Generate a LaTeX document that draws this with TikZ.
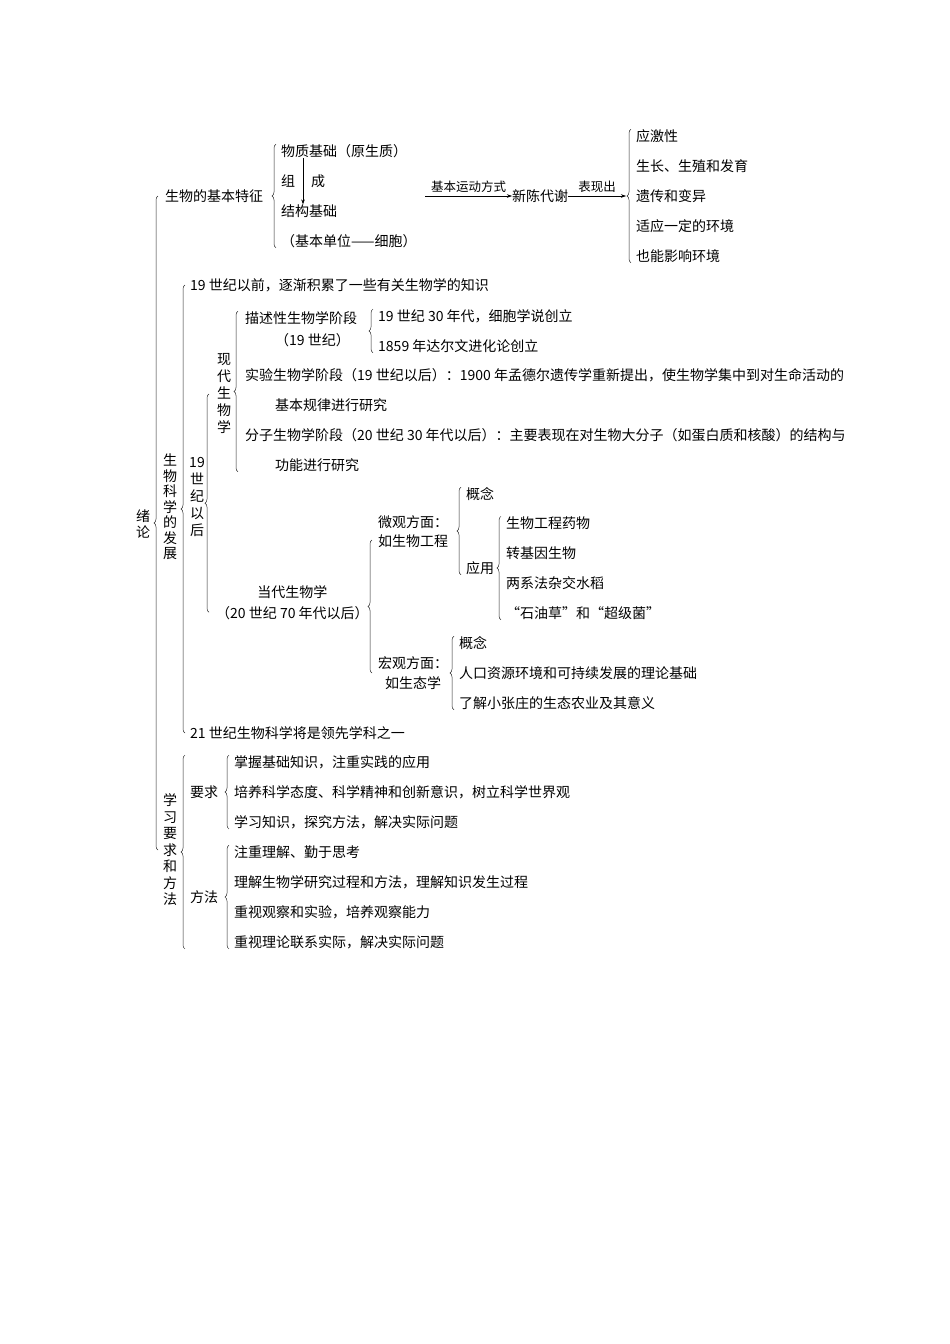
\documentclass[tikz,border=0pt]{standalone}
\usepackage{fontspec}
\setmainfont{Noto Sans CJK SC}
\usepackage{tikz}
\usetikzlibrary{arrows.meta,decorations.pathreplacing}

\begin{document}
\begin{tikzpicture}[
  x=1pt, y={(0pt,-1pt)},
  txt/.style={anchor=west, inner sep=0pt, font=\fontsize{14}{17}\selectfont},
  vt/.style={align=center, inner sep=0pt, font=\fontsize{14}{16.5}\selectfont},
  lbl/.style={inner sep=0pt, font=\fontsize{12.5}{14}\selectfont},
  brc/.style={decorate, decoration={brace, amplitude=4pt}, draw=black!85, line width=0.5pt},
  arr/.style={-{Stealth[length=5pt,width=3.5pt]}, line width=0.5pt}
]
  \useasboundingbox (0,0) rectangle (950,1344);

  % root
  \node[vt] (xl) at (143,524) {绪\\论};

  % 1st part
  \node[txt] (bt) at (165,196) {生物的基本特征};
  \node[txt] (m1) at (281,151) {物质基础（原生质）};
  \node[txt] (zu) at (281,181) {组};
  \node[txt] (cg) at (311,181) {成};
  \node[txt] (m2) at (281,211) {结构基础};
  \node[txt] (m3) at (281,241) {（基本单位——细胞）};
  \coordinate (a0) at (425,196);
  \node[txt] (xc) at (512,196) {新陈代谢};
  \node[txt] (f1) at (636,136) {应激性};
  \node[txt] (f2) at (636,166) {生长、生殖和发育};
  \node[txt] (f3) at (636,196) {遗传和变异};
  \node[txt] (f4) at (636,226) {适应一定的环境};
  \node[txt] (f5) at (636,256) {也能影响环境};

  \draw[brc] ([xshift=-5pt]m3.south west) -- ([xshift=-5pt]m1.north west);
  \draw[brc] ([xshift=-5pt]f5.south west) -- ([xshift=-5pt]f1.north west);
  \draw[arr] ([xshift=22pt]m1.south west) -- ([xshift=22pt]m2.north west);
  \draw[arr] (a0) -- (xc.west) node[midway, above=3pt, lbl] {基本运动方式};
  \draw[arr] (xc.east) -- ([xshift=-10pt]f3.west) node[midway, above=3pt, lbl] {表现出};

  % 2nd part
  \node[vt, font=\fontsize{14}{15.5}\selectfont] (sw) at (170,507) {生\\物\\科\\学\\的\\发\\展};
  \node[txt] (pre) at (190,285) {19 世纪以前，逐渐积累了一些有关生物学的知识};
  \node[vt, font=\fontsize{14}{17}\selectfont] (v19) at (197,497) {19\\世\\纪\\以\\后};
  \node[vt, font=\fontsize{14}{17}\selectfont] (xd) at (224,394) {现\\代\\生\\物\\学};
  \node[txt] (s1) at (245,318) {描述性生物学阶段};
  \node[txt] (s1b) at (275,340) {（19 世纪）};
  \node[txt] (d1) at (378,316) {19 世纪 30 年代，细胞学说创立};
  \node[txt] (d2) at (378,346) {1859 年达尔文进化论创立};
  \node[txt] (s2) at (245,375) {实验生物学阶段（19 世纪以后）：1900 年孟德尔遗传学重新提出，使生物学集中到对生命活动的};
  \node[txt] (s2b) at (275,405) {基本规律进行研究};
  \node[txt] (s3) at (245,435) {分子生物学阶段（20 世纪 30 年代以后）：主要表现在对生物大分子（如蛋白质和核酸）的结构与};
  \node[txt] (s3b) at (275,465) {功能进行研究};

  \node[txt, align=center] (dd) at (216,603) {当代生物学\\[4pt]（20 世纪 70 年代以后）};
  \node[txt, align=center] (wg) at (378,532) {微观方面：\\[2pt]如生物工程};
  \node[txt] (g1) at (466,494) {概念};
  \node[txt] (g2) at (466,568) {应用};
  \node[txt] (a1) at (506,523) {生物工程药物};
  \node[txt] (a2) at (506,553) {转基因生物};
  \node[txt] (a3) at (506,583) {两系法杂交水稻};
  \node[txt] (a4) at (506,613) {“石油草”和“超级菌”};
  \node[txt, align=center] (hg) at (378,673) {宏观方面：\\[3pt]如生态学};
  \node[txt] (h1) at (459,643) {概念};
  \node[txt] (h2) at (459,673) {人口资源环境和可持续发展的理论基础};
  \node[txt] (h3) at (459,703) {了解小张庄的生态农业及其意义};
  \node[txt] (post) at (190,733) {21 世纪生物科学将是领先学科之一};

  \draw[brc] ([xshift=-5pt]post.west) -- ([xshift=-5pt]pre.west);
  \draw[brc] ([xshift=-7pt,yshift=8pt]dd.south west) -- ([xshift=-7pt]dd.west |- xd.west);
  \draw[brc] ([xshift=-7pt]s1.west |- s3b.south) -- ([xshift=-7pt]s1.north west);
  \draw[brc] ([xshift=-5pt]d2.south west) -- ([xshift=-5pt]d1.north west);
  \draw[brc] ([xshift=-6pt]hg.west) -- ([xshift=-6pt,yshift=-8pt]wg.west);
  \draw[brc] ([xshift=-5pt]g2.south west) -- ([xshift=-5pt]g1.north west);
  \draw[brc] ([xshift=-5pt]a4.south west) -- ([xshift=-5pt]a1.north west);
  \draw[brc] ([xshift=-5pt]h3.south west) -- ([xshift=-5pt]h1.north west);

  % 3rd part
  \node[vt] (xx) at (170,850) {学\\习\\要\\求\\和\\方\\法};
  \node[txt] (yq) at (190,792) {要求};
  \node[txt] (ff) at (190,897) {方法};
  \node[txt] (r1) at (234,762) {掌握基础知识，注重实践的应用};
  \node[txt] (r2) at (234,792) {培养科学态度、科学精神和创新意识，树立科学世界观};
  \node[txt] (r3) at (234,822) {学习知识，探究方法，解决实际问题};
  \node[txt] (p1) at (234,852) {注重理解、勤于思考};
  \node[txt] (p2) at (234,882) {理解生物学研究过程和方法，理解知识发生过程};
  \node[txt] (p3) at (234,912) {重视观察和实验，培养观察能力};
  \node[txt] (p4) at (234,942) {重视理论联系实际，解决实际问题};

  \draw[brc] ([xshift=-5pt]r3.south west) -- ([xshift=-5pt]r1.north west);
  \draw[brc] ([xshift=-5pt]p4.south west) -- ([xshift=-5pt]p1.north west);
  \draw[brc] ([xshift=-5pt]yq.west |- p4.south) -- ([xshift=-5pt]yq.west |- r1.north);

  % root brace
  \draw[brc] ([xshift=-7pt]bt.west |- xx.west) -- ([xshift=-7pt]bt.west);
\end{tikzpicture}
\end{document}
